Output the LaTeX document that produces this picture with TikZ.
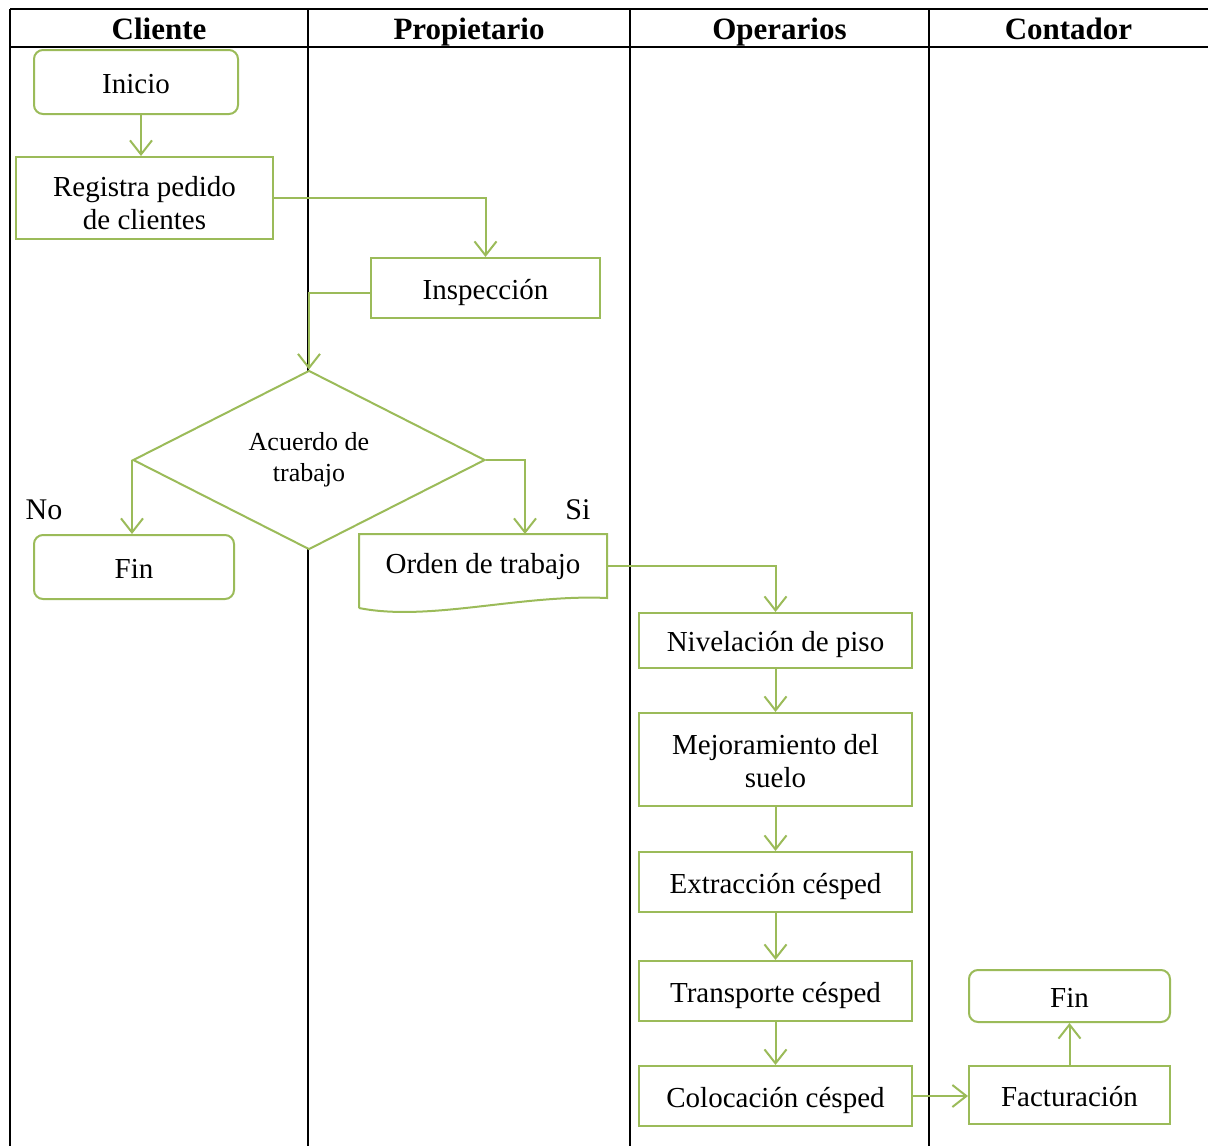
\documentclass[tikz,border=0pt]{standalone}
\usepackage{xcolor}
\usepackage{fontspec}
\usepackage{tikz}
\setmainfont{Liberation Serif}
\definecolor{flowGreen}{RGB}{155, 187, 89}
\usetikzlibrary{shapes.geometric, arrows.meta, positioning, calc}

\begin{document}
\begin{tikzpicture}[
    x=1pt, y=-1pt,
    lane/.style={draw=black, line width=2pt},
    head/.style={font=\bfseries\fontsize{31}{36}\selectfont, inner sep=0pt, anchor=base},
    box/.style={rectangle, draw=flowGreen, line width=2pt, fill=white, inner sep=0pt, align=center, minimum width=#1, font=\fontsize{29}{33}\selectfont},
    proc/.style={box=#1, text height=25pt, text depth=3pt},
    term/.style={proc=#1, rounded corners=9pt},
    decision/.style={diamond, draw=flowGreen, line width=2pt, fill=white, inner sep=0pt, minimum width=352pt, minimum height=179pt, align=center, font=\fontsize{26}{31}\selectfont},
    flow/.style={draw=flowGreen, line width=2pt, -{Straight Barb[length=14pt, width=22pt]}},
    tag/.style={font=\fontsize{30}{34}\selectfont, inner sep=0pt, anchor=base}
]
    \useasboundingbox (0,0) rectangle (1208,1146);

    % Lanes
    \draw[lane] (10,9) -- (1208,9);
    \draw[lane] (10,47) -- (1208,47);
    \foreach \x in {10,308,630,929}
        \draw[lane] (\x,9) -- (\x,1146);
    \foreach \x/\t in {159/Cliente, 469/Propietario, 779.5/Operarios, 1068.5/Contador}
        \node[head] (h\t) at (\x,39) {\t};

    % Steps
    \node[term=204pt, minimum height=64pt] (inicio) at (136,82) {Inicio};
    \node[box=257pt, minimum height=82pt] (registra) at (144.5,198) {\rule{0pt}{30pt}Registra pedido\\de clientes};
    \node[proc=229pt, minimum height=60pt] (inspeccion) at (485.5,288) {Inspección};
    \node[decision] (acuerdo) at (309,460) {Acuerdo de\\trabajo};
    \node[term=200pt, minimum height=64pt] (fin1) at (134,567) {Fin};
    \node[proc=246pt, minimum height=62pt, text height=20pt, text depth=6pt, draw=none, fill=none] (orden) at (483,566) {Orden de trabajo};
    \draw[flowGreen, line width=2pt] ($(orden.south west)+(0,10)$) -- (orden.north west) -- (orden.north east) -- (orden.south east)
        .. controls ($(orden.south east)+(-86,-4)$) and ($(orden.south west)+(70,24)$) .. ($(orden.south west)+(0,10)$);
    \node[proc=273pt, minimum height=55pt] (nivel) at (775.5,640.5) {Nivelación de piso};
    \node[box=273pt, minimum height=93pt] (mejora) at (775.5,759.5) {\rule{0pt}{24pt}Mejoramiento del\\suelo};
    \node[proc=273pt, minimum height=60pt] (extrac) at (775.5,882) {Extracción césped};
    \node[proc=273pt, minimum height=60pt] (transp) at (775.5,991) {Transporte césped};
    \node[proc=273pt, minimum height=60pt] (coloca) at (775.5,1096) {Colocación césped};
    \node[proc=201pt, minimum height=58pt] (factura) at (1069.5,1095) {Facturación};
    \node[term=201pt, minimum height=52pt] (fin2) at (1069.5,996) {Fin};

    % Labels
    \node[tag] (lblNo) at (44,519) {No};
    \node[tag] (lblSi) at (578,519) {Si};

    % Connections
    \draw[flow] ([xshift=5pt]inicio.south) -- ([xshift=5pt]inicio.south |- registra.north);
    \draw[flow] (registra.east) -| (inspeccion.north);
    \draw[flow] ([yshift=-5pt]inspeccion.west) -| (acuerdo.north);
    \draw[flow] (acuerdo.west) -- (acuerdo.west |- fin1.north);
    \draw[flow] (acuerdo.east) -| ([xshift=42pt]orden.north);
    \draw[flow] (orden.east) -| (nivel.north);
    \draw[flow] (nivel) -- (mejora);
    \draw[flow] (mejora) -- (extrac);
    \draw[flow] (extrac) -- (transp);
    \draw[flow] (transp) -- (coloca);
    \draw[flow] (coloca.east) -- (coloca.east -| factura.west);
    \draw[flow] (factura) -- (fin2);
\end{tikzpicture}
\end{document}
